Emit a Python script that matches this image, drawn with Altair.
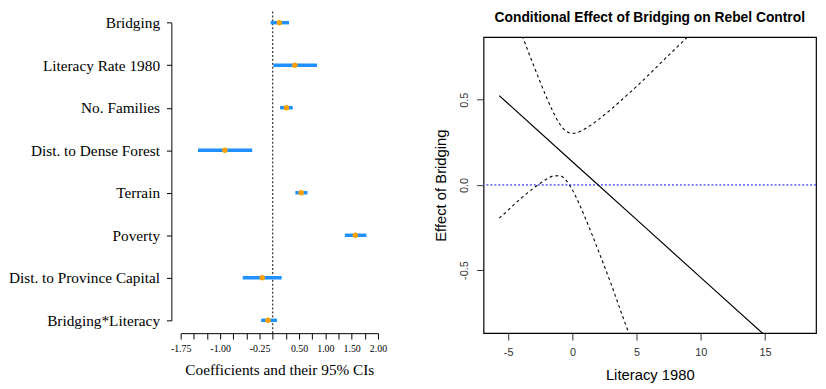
import altair as alt
import pandas as pd

# ---------------- Left panel: coefficient plot ----------------
variables = ["Bridging", "Literacy Rate 1980", "No. Families", "Dist. to Dense Forest",
             "Terrain", "Poverty", "Dist. to Province Capital", "Bridging*Literacy"]
coef = [0.125, 0.42, 0.26, -0.91, 0.54, 1.57, -0.20, -0.09]
ci_low = [-0.04, 0.01, 0.14, -1.42, 0.43, 1.37, -0.57, -0.22]
ci_high = [0.31, 0.84, 0.38, -0.39, 0.66, 1.78, 0.17, 0.08]

coef_ticks = [-1.75, -1.5, -1.25, -1.0, -0.75, -0.5, -0.25, 0.0,
              0.25, 0.5, 0.75, 1.0, 1.25, 1.5, 1.75, 2.0]
coef_label_vals = [-1.75, -1.0, -0.25, 0.5, 1.0, 1.5, 2.0]
coef_label_text = ["-1.75", "-1.00", "-0.25", "0.50", "1.00", "1.50", "2.00"]

# ---------------- Right panel: conditional effect ----------------
est_x = [-5.7, 0, 5, 10, 15]
est_y = [0.524, 0.136, -0.204, -0.544, -0.884]

upper_x = [-5.7, -5, -4.5, -4, -3.5, -3, -2.5, -2, -1.5, -1, -0.5, 0, 0.5, 1,
           1.5, 2, 3, 4, 5, 6, 7, 8, 9, 10]
upper_y = [1.232, 1.092, 0.992, 0.893, 0.794, 0.697, 0.602, 0.511, 0.428, 0.359,
           0.316, 0.302, 0.310, 0.330, 0.354, 0.382, 0.443, 0.510, 0.578, 0.650,
           0.725, 0.798, 0.870, 0.940]

lower_x = [-5.7, -5, -4.5, -4, -3.5, -3, -2.5, -2, -1.5, -1, -0.5, 0, 0.5, 1,
           1.5, 2, 3, 4, 5]
lower_y = [-0.195, -0.148, -0.112, -0.079, -0.047, -0.017, 0.010, 0.035, 0.052,
           0.054, 0.028, -0.030, -0.106, -0.194, -0.286, -0.382, -0.579, -0.790,
           -0.990]

zero_line = [0.0]

# ---------------- Build left chart ----------------
SERIF = "Liberation Serif"
SANS = "Liberation Sans"
H = 300
LW = 200

df_coef = pd.DataFrame({"var": variables, "coef": coef, "lo": ci_low, "hi": ci_high})

label_expr = " : ".join(
    f"abs(datum.value - ({v})) < 0.001 ? '{t}'" for v, t in zip(coef_label_vals, coef_label_text)
) + " : ''"

x_left_scale = alt.Scale(domain=[coef_ticks[0], coef_ticks[-1]], nice=False, zero=False)
x_left_axis = alt.Axis(values=coef_ticks, labelExpr=label_expr, offset=0, tickSize=6,
                       grid=False, domainColor="black", tickColor="black",
                       labelFont=SERIF, labelFontSize=10, labelColor="black", labelPadding=5,
                       labelOverlap=False, labelFlush=False,
                       title="Coefficients and their 95% CIs", titleFont=SERIF,
                       titleFontSize=15.5, titleFontWeight="normal", titleColor="black",
                       titlePadding=9)
y_left = alt.Y("var:N", sort=variables,
               scale=alt.Scale(type="point", padding=0, range=[-14.7, 287]),
               axis=alt.Axis(title=None, offset=9.4, tickSize=5, labelPadding=7, grid=False,
                             domainColor="black", tickColor="black", labelFont=SERIF,
                             labelFontSize=15.5, labelColor="black", labelLimit=400))

ci = alt.Chart(df_coef).mark_rule(color="#1E90FF", strokeWidth=3.5).encode(
    x=alt.X("lo:Q", scale=x_left_scale, axis=x_left_axis),
    x2="hi:Q",
    y=y_left,
)
pts = alt.Chart(df_coef).mark_point(filled=True, color="#FFA000", size=30, opacity=1).encode(
    x=alt.X("coef:Q", scale=x_left_scale, axis=x_left_axis),
    y=y_left,
)
vline = alt.Chart(pd.DataFrame({"ref": zero_line})).mark_rule(
    color="black", strokeDash=[2, 2], strokeWidth=1
).encode(
    x=alt.X("ref:Q", scale=x_left_scale, axis=x_left_axis),
    y=alt.value(-26),
    y2=alt.value(H),
)
left = alt.layer(vline, ci, pts).properties(
    width=LW, height=H, view=alt.ViewBackground(stroke=None)
)

# ---------------- Build right chart ----------------
rows = []
for xv, yv in zip(est_x, est_y):
    rows.append({"lit": xv, "eff": yv, "series": "est"})
for xv, yv in zip(upper_x, upper_y):
    rows.append({"lit": xv, "eff": yv, "series": "upper"})
for xv, yv in zip(lower_x, lower_y):
    rows.append({"lit": xv, "eff": yv, "series": "lower"})
df_eff = pd.DataFrame(rows)

x_r_scale = alt.Scale(domain=[-6.92, 18.97], nice=False, zero=False)
y_r_scale = alt.Scale(domain=[-0.87, 0.867], nice=False, zero=False)
x_r_axis = alt.Axis(values=[-5, 0, 5, 10, 15],
                    labelExpr="datum.value < 0 ? '-' + format(abs(datum.value), 'd') : format(datum.value, 'd')",
                    domain=False, tickSize=7, tickColor="#333333", grid=False,
                    labelFont=SANS, labelFontSize=11, labelColor="#333333", labelPadding=7,
                    labelFlush=False,
                    title="Literacy 1980", titleFont=SANS, titleFontSize=15,
                    titleFontWeight="normal", titleColor="black", titlePadding=10)
y_r_axis = alt.Axis(values=[-0.5, 0.0, 0.5],
                    labelExpr="datum.value < 0 ? '-' + format(abs(datum.value), '.1f') : format(datum.value, '.1f')",
                    domain=False, tickSize=7, tickColor="#333333", grid=False,
                    labelAngle=270, labelAlign="center", labelBaseline="bottom",
                    labelFont=SANS, labelFontSize=11, labelColor="#333333", labelPadding=7,
                    labelFlush=False,
                    title="Effect of Bridging", titleFont=SANS, titleFontSize=15,
                    titleFontWeight="normal", titleColor="black", titlePadding=11)

xr = alt.X("lit:Q", scale=x_r_scale, axis=x_r_axis)
yr = alt.Y("eff:Q", scale=y_r_scale, axis=y_r_axis)

est_line = alt.Chart(df_eff).transform_filter(alt.datum.series == "est").mark_line(
    color="black", strokeWidth=1.2, clip=True).encode(x=xr, y=yr)
band_lines = alt.Chart(df_eff).transform_filter(alt.datum.series != "est").mark_line(
    color="black", strokeWidth=1.1, strokeDash=[3, 3], clip=True, interpolate="monotone"
).encode(x=xr, y=yr, detail="series:N")
hline = alt.Chart(pd.DataFrame({"eff": zero_line})).mark_rule(
    color="#6f6fff", strokeDash=[2, 2], strokeWidth=1.6).encode(y=yr)

right = alt.layer(hline, band_lines, est_line).properties(
    width=337, height=H,
    view=alt.ViewBackground(stroke="black", strokeWidth=1.2),
    title=alt.TitleParams("Conditional Effect of Bridging on Rebel Control", font=SANS,
                          fontSize=14, fontWeight="bold", color="black",
                          anchor="middle", frame="group", offset=12),
)

chart = alt.hconcat(left, right, spacing=46).properties(padding=0).configure_view(stroke=None)

chart.save("out.html", embed_options={"renderer": "svg", "actions": False})
